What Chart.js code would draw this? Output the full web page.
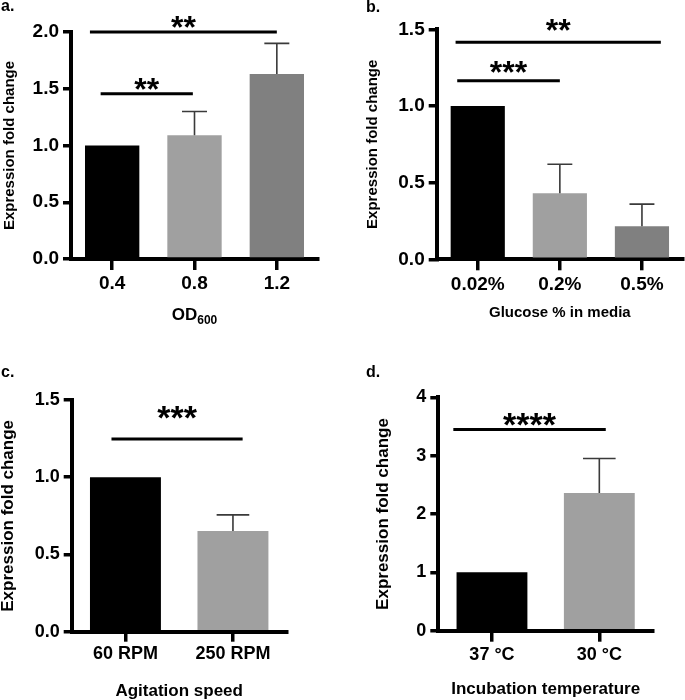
<!DOCTYPE html>
<html>
<head>
<meta charset="utf-8">
<script src="https://cdn.jsdelivr.net/npm/chart.js@4"></script>
<style>
  body { margin: 0; background: #fff; width: 685px; height: 700px; position: relative; overflow: hidden;
         font-family: "Liberation Sans", Arial, sans-serif; }
  .panel { position: absolute; }
  .tag { position: absolute; font-weight: bold; font-size: 16px; line-height: 1; color: #000; }
</style>
</head>
<body>
<div class="panel" style="left:0;top:0;width:340px;height:330px"><canvas id="chartA"></canvas></div>
<div class="panel" style="left:340px;top:0;width:345px;height:330px"><canvas id="chartB"></canvas></div>
<div class="panel" style="left:0;top:330px;width:340px;height:370px"><canvas id="chartC"></canvas></div>
<div class="panel" style="left:340px;top:330px;width:345px;height:370px"><canvas id="chartD"></canvas></div>
<div class="tag" style="left:1px;top:-2px">a.</div>
<div class="tag" style="left:366px;top:-1px">b.</div>
<div class="tag" style="left:1px;top:364px">c.</div>
<div class="tag" style="left:366px;top:364px">d.</div>
<script>
const FONT = '"Liberation Sans", Arial, sans-serif';

// a. OD600
const odLabels = ['0.4', '0.8', '1.2'];
const odMeans = [1.0, 1.09, 1.63];
const odErrors = [0, 0.21, 0.27];
// significance: from / to (category units), bar height, star height, label
const odSig = [
  { from: -0.27, to: 2.0, line: 2.0, star: 2.10, text: '**' },
  { from: -0.14, to: 0.98, line: 1.456, star: 1.56, text: '**' }
];

// b. glucose
const glucoseLabels = ['0.02%', '0.2%', '0.5%'];
const glucoseMeans = [1.0, 0.43, 0.215];
const glucoseErrors = [0, 0.19, 0.145];
const glucoseSig = [
  { from: -0.27, to: 2.23, line: 1.415, star: 1.54, text: '**' },
  { from: -0.25, to: 1.0, line: 1.165, star: 1.267, text: '***' }
];

// c. agitation
const speedLabels = ['60 RPM', '250 RPM'];
const speedMeans = [1.0, 0.652];
const speedErrors = [0, 0.104];
const speedSig = [
  { from: -0.13, to: 1.09, line: 1.248, star: 1.436, text: '***' }
];

// d. temperature
const tempLabels = ['37 °C', '30 °C'];
const tempMeans = [1.0, 2.36];
const tempErrors = [0, 0.59];
const tempSig = [
  { from: -0.36, to: 1.06, line: 3.45, star: 3.665, text: '****' }
];

const barColors = ['#000000', '#a0a0a0', '#808080'];

function extras(cfg) {
  return {
    id: 'extras',
    afterDatasetsDraw(chart) {
      const ctx = chart.ctx;
      const x = chart.scales.x, y = chart.scales.y;
      const meta = chart.getDatasetMeta(0);
      ctx.save();
      // error bars (upper only)
      ctx.strokeStyle = '#3a3a3a';
      ctx.lineWidth = 1.6;
      cfg.means.forEach((m, i) => {
        const e = cfg.errors[i];
        if (!e) return;
        const bar = meta.data[i];
        const half = bar.width * 0.23;
        const y0 = y.getPixelForValue(m), y1 = y.getPixelForValue(m + e);
        ctx.beginPath();
        ctx.moveTo(bar.x, y0); ctx.lineTo(bar.x, y1);
        ctx.moveTo(bar.x - half, y1); ctx.lineTo(bar.x + half, y1);
        ctx.stroke();
      });
      // significance bars
      ctx.strokeStyle = '#000';
      ctx.fillStyle = '#000';
      ctx.lineWidth = 3;
      ctx.font = 'bold ' + cfg.starSize + 'px ' + FONT;
      ctx.textAlign = 'center';
      ctx.textBaseline = 'alphabetic';
      cfg.sig.forEach(s => {
        const xa = x.getPixelForValue(s.from), xb = x.getPixelForValue(s.to);
        const yl = y.getPixelForValue(s.line);
        ctx.beginPath(); ctx.moveTo(xa, yl); ctx.lineTo(xb, yl); ctx.stroke();
        ctx.fillText(s.text, (xa + xb) / 2, y.getPixelForValue(s.star) + cfg.starSize * 0.55);
      });
      // x title with subscript
      if (cfg.subTitle) {
        const [main, sub] = cfg.subTitle;
        const cx = (chart.chartArea.left + chart.chartArea.right) / 2;
        const base = cfg.subTitleY;
        ctx.font = 'bold 17px ' + FONT;
        const w1 = ctx.measureText(main).width;
        ctx.font = 'bold 12px ' + FONT;
        const w2 = ctx.measureText(sub).width;
        const x0 = cx - (w1 + w2) / 2;
        ctx.textAlign = 'left';
        ctx.font = 'bold 17px ' + FONT;
        ctx.fillText(main, x0, base);
        ctx.font = 'bold 12px ' + FONT;
        ctx.fillText(sub, x0 + w1, base + 3.5);
      }
      ctx.restore();
    }
  };
}

function makePanel(id, cfg) {
  const titleFont = { family: FONT, size: cfg.titleSize, weight: 'bold', lineHeight: 1 };
  const tickFont = { family: FONT, size: cfg.tickSize, weight: 'bold' };
  return new Chart(document.getElementById(id), {
    type: 'bar',
    data: {
      labels: cfg.labels,
      datasets: [{
        data: cfg.means,
        backgroundColor: barColors.slice(0, cfg.means.length),
        barPercentage: 0.66,
        categoryPercentage: 1
      }]
    },
    options: {
      responsive: true,
      maintainAspectRatio: false,
      animation: false,
      events: [],
      layout: { padding: cfg.padding },
      plugins: { legend: { display: false }, tooltip: { enabled: false } },
      scales: {
        x: {
          grid: { display: true, drawOnChartArea: false, offset: false, tickLength: cfg.xTick,
                  lineWidth: 3.5, tickWidth: 3.5, color: '#000', tickColor: '#000' },
          border: { display: true, color: '#000', width: 4 },
          ticks: { font: tickFont, color: '#000', padding: cfg.xPad, maxRotation: 0 },
          title: { display: !!cfg.xTitle, text: cfg.xTitle || '', font: titleFont, color: '#000', padding: 0 },
          afterFit: s => { s.height = cfg.xHeight; }
        },
        y: {
          min: 0,
          max: cfg.yMax,
          grid: { drawOnChartArea: false, tickLength: 8, lineWidth: 3.5, tickWidth: 3.5, color: '#000', tickColor: '#000' },
          border: { display: true, color: '#000', width: 4 },
          ticks: { stepSize: cfg.step, font: tickFont, color: '#000', padding: 4,
                   callback: v => v.toFixed(cfg.decimals) },
          title: { display: true, text: 'Expression fold change', font: titleFont, color: '#000', padding: 0 },
          afterFit: s => { s.width = cfg.yWidth; }
        }
      }
    },
    plugins: [extras(cfg)]
  });
}

makePanel('chartA', {
  labels: odLabels, means: odMeans, errors: odErrors, sig: odSig,
  yMax: 2, step: 0.5, decimals: 1,
  titleSize: 15, tickSize: 19, starSize: 32,
  padding: { left: 2.5, top: 32, right: 22, bottom: 9.5 },
  yWidth: 68.5, xHeight: 61.5, xTick: 11, xPad: 2,
  subTitle: ['OD', '600'], subTitleY: 320
});

makePanel('chartB', {
  labels: glucoseLabels, means: glucoseMeans, errors: glucoseErrors, sig: glucoseSig,
  yMax: 1.5, step: 0.5, decimals: 1,
  titleSize: 15, tickSize: 19, starSize: 32,
  padding: { left: 25.5, top: 29.3, right: 2, bottom: 9.5 },
  yWidth: 71.2, xHeight: 61.2, xTick: 11, xPad: 3,
  xTitle: 'Glucose % in media'
});

makePanel('chartC', {
  labels: speedLabels, means: speedMeans, errors: speedErrors, sig: speedSig,
  yMax: 1.5, step: 0.5, decimals: 1,
  titleSize: 17, tickSize: 18, starSize: 34,
  padding: { left: 0, top: 70, right: 53.3, bottom: 0.5 },
  yWidth: 71.7, xHeight: 67.8, xTick: 10, xPad: 2,
  xTitle: 'Agitation speed'
});

makePanel('chartD', {
  labels: tempLabels, means: tempMeans, errors: tempErrors, sig: tempSig,
  yMax: 4, step: 1, decimals: 0,
  titleSize: 17, tickSize: 18, starSize: 34,
  padding: { left: 34.5, top: 67.3, right: 32, bottom: 2.5 },
  yWidth: 63.8, xHeight: 66.8, xTick: 11, xPad: 2.5,
  xTitle: 'Incubation temperature'
});
</script>
</body>
</html>
